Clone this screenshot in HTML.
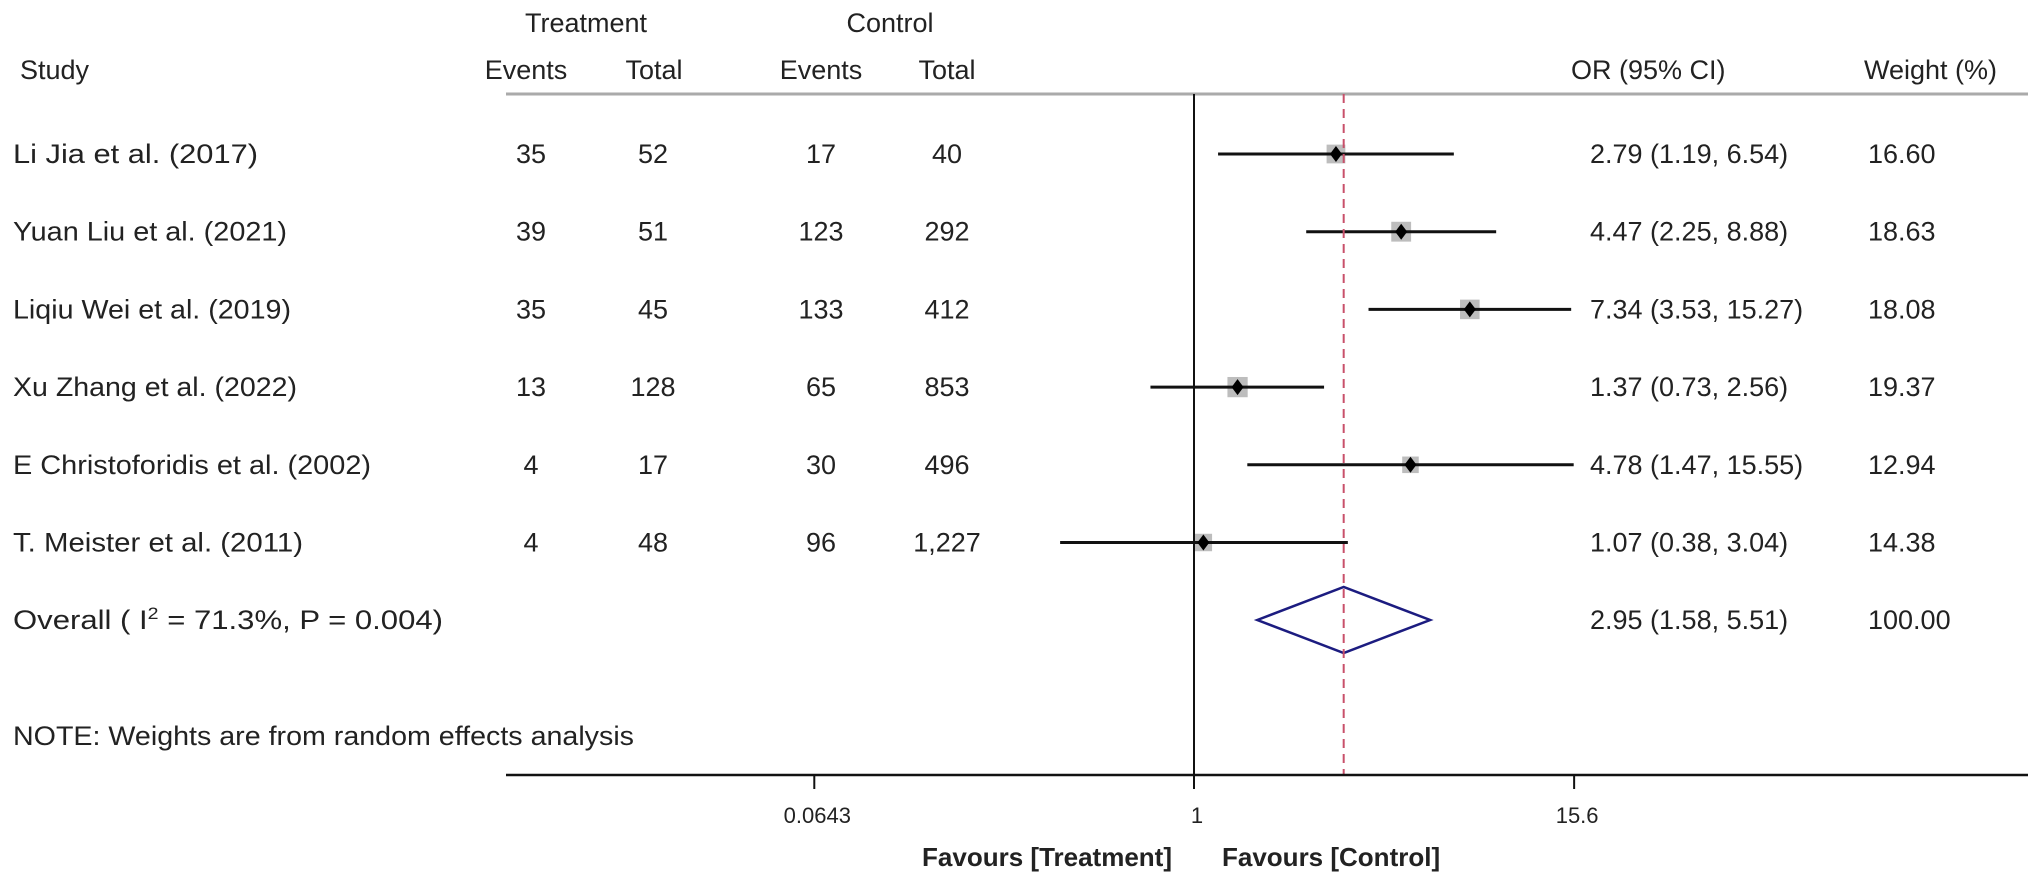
<!DOCTYPE html>
<html><head><meta charset="utf-8"><style>
html,body{margin:0;padding:0;background:#fff;}
svg{display:block;font-family:"Liberation Sans",Arial,sans-serif;}
</style></head><body>
<svg id="plot" width="2032" height="875" viewBox="0 0 2032 875" xmlns="http://www.w3.org/2000/svg">
<g font-size="27" fill="#222">
<text x="586" y="32" text-anchor="middle">Treatment</text>
<text x="890" y="32" text-anchor="middle">Control</text>
<text x="20" y="79">Study</text>
<text x="526" y="79" text-anchor="middle">Events</text>
<text x="654" y="79" text-anchor="middle">Total</text>
<text x="821" y="79" text-anchor="middle">Events</text>
<text x="947" y="79" text-anchor="middle">Total</text>
<text x="1571" y="79">OR (95% CI)</text>
<text x="1864" y="79">Weight (%)</text>
</g>
<line x1="506" y1="94" x2="2028" y2="94" stroke="#aaa" stroke-width="3"/>
<g id="rows"></g>
<g id="marks"></g>
<text x="13" y="629" font-size="27" fill="#222" textLength="430" lengthAdjust="spacingAndGlyphs">Overall  (  I<tspan font-size="17" dy="-10">2</tspan><tspan dy="10"> = 71.3%, P = 0.004)</tspan></text>
<text x="13" y="745" font-size="27" fill="#222" textLength="621" lengthAdjust="spacingAndGlyphs">NOTE: Weights are from random effects analysis</text>
<g id="axis"></g>
<text x="1172" y="866" font-size="26" font-weight="bold" fill="#222" text-anchor="end">Favours [Treatment]</text>
<text x="1222" y="866" font-size="26" font-weight="bold" fill="#222">Favours [Control]</text>
</svg>
<script>
const studies = ["Li Jia et al. (2017)","Yuan Liu et al. (2021)","Liqiu Wei et al. (2019)","Xu Zhang et al. (2022)","E Christoforidis et al. (2002)","T. Meister et al. (2011)"];
const studyWidths = [245,274,278,284,358,290];
const trtEvents = ["35","39","35","13","4","4"];
const trtTotal = ["52","51","45","128","17","48"];
const ctlEvents = ["17","123","133","65","30","96"];
const ctlTotal = ["40","292","412","853","496","1,227"];
const orVals = [2.79,4.47,7.34,1.37,4.78,1.07];
const ciLow = [1.19,2.25,3.53,0.73,1.47,0.38];
const ciHigh = [6.54,8.88,15.27,2.56,15.55,3.04];
const weights = [16.60,18.63,18.08,19.37,12.94,14.38];
const overallOR = 2.95, overallLow = 1.58, overallHigh = 5.51, overallWeight = 100.00;
const tickVals = [0.0643,1,15.6];
const tickLabels = ["0.0643","1","15.6"];

const NS="http://www.w3.org/2000/svg";
const x0=1194, pxPerDecade=318.6;
const xs=v=>x0+pxPerDecade*Math.log10(v);
const rowY=i=>154+i*77.7;
function mk(tag,attrs,parent,txt){const e=document.createElementNS(NS,tag);for(const k in attrs)e.setAttribute(k,attrs[k]);if(txt!==undefined)e.textContent=txt;parent.appendChild(e);return e;}
const rows=document.getElementById('rows'), marks=document.getElementById('marks'), axis=document.getElementById('axis');
const fmt=v=>v.toFixed(2);

let vl=mk('line',{x1:x0,y1:94,x2:x0,y2:775,stroke:'#111','stroke-width':2},axis);


let dl=mk('line',{x1:xs(overallOR),y1:94,x2:xs(overallOR),y2:775,stroke:'#c8506a','stroke-width':2,'stroke-dasharray':'9,6'},axis);


let al=mk('line',{x1:506,y1:775,x2:2028,y2:775,stroke:'#111','stroke-width':2.5},axis);


tickVals.forEach((v,i)=>{
  const t=mk('line',{x1:xs(v),y1:775,x2:xs(v),y2:789,stroke:'#111','stroke-width':2},axis);
  
  
  const l=mk('text',{x:xs(v)+3,y:823,'font-size':22,fill:'#222','text-anchor':'middle'},axis,tickLabels[i]);
  
  
});

studies.forEach((s,i)=>{
  const y=rowY(i), by=y+9;
  const n=mk('text',{x:13,y:by,'font-size':27,fill:'#222',textLength:studyWidths[i],lengthAdjust:'spacingAndGlyphs'},rows,s);
  
  
  [[531,trtEvents[i],'treatment-events'],[653,trtTotal[i],'treatment-total'],[821,ctlEvents[i],'control-events'],[947,ctlTotal[i],'control-total']].forEach(c=>{
    const t=mk('text',{x:c[0],y:by,'font-size':27,fill:'#222','text-anchor':'middle'},rows,c[1]);
    
    
  });
  const o=mk('text',{x:1590,y:by,'font-size':27,fill:'#222'},rows,`${fmt(orVals[i])} (${fmt(ciLow[i])}, ${fmt(ciHigh[i])})`);
  
  
  const w=mk('text',{x:1868,y:by,'font-size':27,fill:'#222'},rows,fmt(weights[i]));
  
  
  const sz=4.6*Math.sqrt(weights[i]);
  const sq=mk('rect',{x:xs(orVals[i])-sz/2,y:y-sz/2,width:sz,height:sz,fill:'#bdbdbd'},marks);
  
  
  const ci=mk('line',{x1:xs(ciLow[i]),y1:y,x2:xs(ciHigh[i]),y2:y,stroke:'#111','stroke-width':3},marks);
  
  
  const cx=xs(orVals[i]);
  const d=mk('polygon',{points:`${cx-6},${y} ${cx},${y-8} ${cx+6},${y} ${cx},${y+8}`,fill:'#000'},marks);
  
  
});
const oy=620;
const od=mk('polygon',{points:`${xs(overallLow)},${oy} ${xs(overallOR)},${oy-33} ${xs(overallHigh)},${oy} ${xs(overallOR)},${oy+33}`,fill:'none',stroke:'#1c1c80','stroke-width':2.5},marks);


const oo=mk('text',{x:1590,y:oy+9,'font-size':27,fill:'#222'},rows,`${fmt(overallOR)} (${fmt(overallLow)}, ${fmt(overallHigh)})`);


const ow=mk('text',{x:1868,y:oy+9,'font-size':27,fill:'#222'},rows,fmt(overallWeight));


</script>
</body></html>
